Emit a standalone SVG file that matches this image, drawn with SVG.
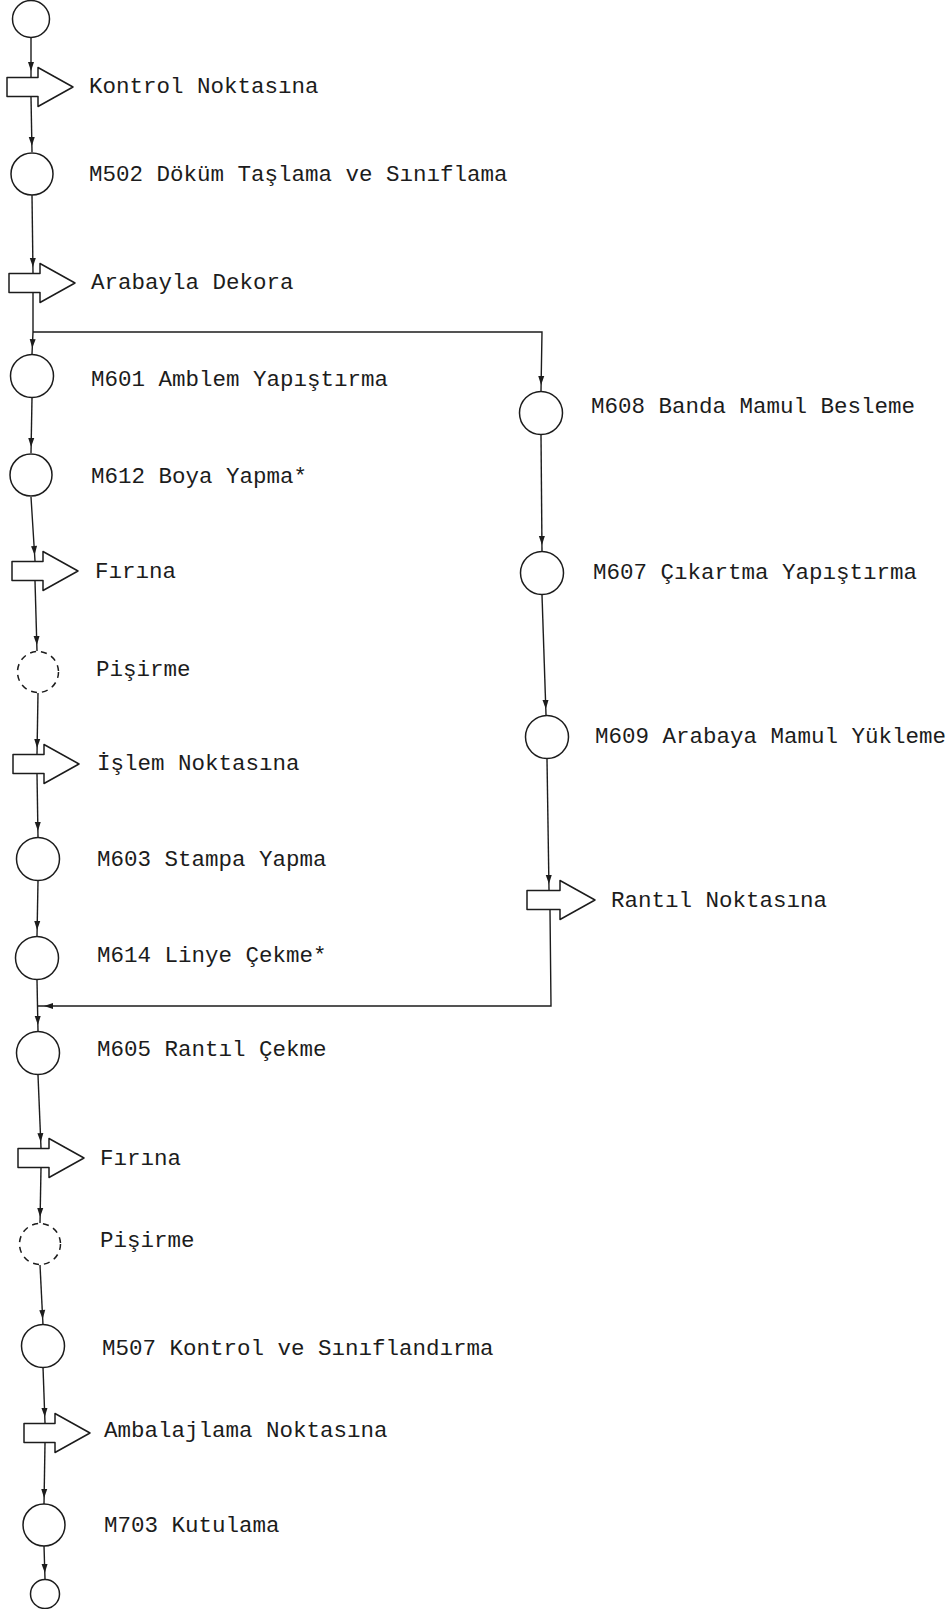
<svg xmlns="http://www.w3.org/2000/svg" width="950" height="1609" viewBox="0 0 950 1609">
  <style>
    .ln { fill: none; stroke: #1c1c1c; stroke-width: 1.4; }
    .nd { fill: none; stroke: #1c1c1c; stroke-width: 1.5; stroke-linejoin: round; }
    .dash { stroke-dasharray: 6 5; }
    .tx { font-family: "Liberation Mono", "DejaVu Sans Mono", monospace; font-size: 22.5px; fill: #1c1c1c; }
  </style>
  <defs>
    <!-- small solid head, sitting a few px short of the line end -->
    <marker id="ah" markerUnits="userSpaceOnUse" markerWidth="10" markerHeight="6" refX="15" refY="3" orient="auto" overflow="visible">
      <path d="M0,0 L9,3 L0,6 Z" fill="#1c1c1c"/>
    </marker>
  </defs>
  <rect width="950" height="1609" fill="#ffffff"/>

  <!-- connectors -->
  <g id="connectors" class="ln">
    <path d="M31,37 L31,77" marker-end="url(#ah)"/>
    <path d="M31,97 L32,152" marker-end="url(#ah)"/>
    <path d="M32,195 L33,273" marker-end="url(#ah)"/>
    <path d="M33,293 L33,332 L32,354" marker-end="url(#ah)"/>
    <path d="M33,332 L542,332 L541,391" marker-end="url(#ah)"/>
    <path d="M32,398 L31,453" marker-end="url(#ah)"/>
    <path d="M31,497 L35,561" marker-end="url(#ah)"/>
    <path d="M35,581 L37,651" marker-end="url(#ah)"/>
    <path d="M38,693 L37,754" marker-end="url(#ah)"/>
    <path d="M37,774 L38,837" marker-end="url(#ah)"/>
    <path d="M38,881 L37,936" marker-end="url(#ah)"/>
    <path d="M37,980 L38,1031" marker-end="url(#ah)"/>
    <path d="M541,435 L542,551" marker-end="url(#ah)"/>
    <path d="M542,595 L546,715" marker-end="url(#ah)"/>
    <path d="M547,759 L549,890" marker-end="url(#ah)"/>
    <path d="M550,910 L551,1006 L38,1006" marker-end="url(#ah)"/>
    <path d="M38,1075 L41,1148" marker-end="url(#ah)"/>
    <path d="M41,1168 L40,1223" marker-end="url(#ah)"/>
    <path d="M40,1265 L43,1325" marker-end="url(#ah)"/>
    <path d="M43,1367 L45,1423" marker-end="url(#ah)"/>
    <path d="M45,1443 L44,1504" marker-end="url(#ah)"/>
    <path d="M44,1546 L45,1579" marker-end="url(#ah)"/>
  </g>

  <!-- left column -->
  <g id="start"><circle class="nd" cx="31" cy="19" r="18.5"/></g>

  <g id="kontrol-noktasina">
    <path class="nd" d="M7,77.5 L38,77.5 L38,67.5 L73,87 L38,106.5 L38,96.5 L7,96.5 Z"/>
    <text class="tx" x="89" y="93">Kontrol Noktasına</text>
  </g>

  <g id="m502">
    <circle class="nd" cx="32" cy="174" r="21"/>
    <text class="tx" x="89" y="181">M502 Döküm Taşlama ve Sınıflama</text>
  </g>

  <g id="arabayla-dekora">
    <path class="nd" d="M9,273.5 L40,273.5 L40,263.5 L75,283 L40,302.5 L40,292.5 L9,292.5 Z"/>
    <text class="tx" x="91" y="289">Arabayla Dekora</text>
  </g>

  <g id="m601">
    <circle class="nd" cx="32" cy="376" r="21.5"/>
    <text class="tx" x="91" y="386">M601 Amblem Yapıştırma</text>
  </g>

  <g id="m612">
    <circle class="nd" cx="31" cy="475" r="21"/>
    <text class="tx" x="91" y="483">M612 Boya Yapma*</text>
  </g>

  <g id="firina-1">
    <path class="nd" d="M12,561.5 L43,561.5 L43,551.5 L78,571 L43,590.5 L43,580.5 L12,580.5 Z"/>
    <text class="tx" x="95" y="578">Fırına</text>
  </g>

  <g id="pisirme-1">
    <circle class="nd dash" cx="38" cy="672" r="20.5"/>
    <text class="tx" x="96" y="676">Pişirme</text>
  </g>

  <g id="islem-noktasina">
    <path class="nd" d="M13,754.5 L44,754.5 L44,744.5 L79,764 L44,783.5 L44,773.5 L13,773.5 Z"/>
    <text class="tx" x="97" y="770">İşlem Noktasına</text>
  </g>

  <g id="m603">
    <circle class="nd" cx="38" cy="859" r="21.5"/>
    <text class="tx" x="97" y="866">M603 Stampa Yapma</text>
  </g>

  <g id="m614">
    <circle class="nd" cx="37" cy="958" r="21.5"/>
    <text class="tx" x="97" y="962">M614 Linye Çekme*</text>
  </g>

  <g id="m605">
    <circle class="nd" cx="38" cy="1053" r="21.5"/>
    <text class="tx" x="97" y="1056">M605 Rantıl Çekme</text>
  </g>

  <g id="firina-2">
    <path class="nd" d="M18,1148.5 L49,1148.5 L49,1138.5 L84,1158 L49,1177.5 L49,1167.5 L18,1167.5 Z"/>
    <text class="tx" x="100" y="1165">Fırına</text>
  </g>

  <g id="pisirme-2">
    <circle class="nd dash" cx="40" cy="1244" r="20.5"/>
    <text class="tx" x="100" y="1247">Pişirme</text>
  </g>

  <g id="m507">
    <circle class="nd" cx="43" cy="1346" r="21.5"/>
    <text class="tx" x="102" y="1355">M507 Kontrol ve Sınıflandırma</text>
  </g>

  <g id="ambalajlama-noktasina">
    <path class="nd" d="M24,1423.5 L55,1423.5 L55,1413.5 L90,1433 L55,1452.5 L55,1442.5 L24,1442.5 Z"/>
    <text class="tx" x="104" y="1437">Ambalajlama Noktasına</text>
  </g>

  <g id="m703">
    <circle class="nd" cx="44" cy="1525" r="21"/>
    <text class="tx" x="104" y="1532">M703 Kutulama</text>
  </g>

  <g id="end"><circle class="nd" cx="45" cy="1594" r="14.5"/></g>

  <!-- right branch -->
  <g id="m608">
    <circle class="nd" cx="541" cy="413" r="21.5"/>
    <text class="tx" x="591" y="413">M608 Banda Mamul Besleme</text>
  </g>

  <g id="m607">
    <circle class="nd" cx="542" cy="573" r="21.5"/>
    <text class="tx" x="593" y="579">M607 Çıkartma Yapıştırma</text>
  </g>

  <g id="m609">
    <circle class="nd" cx="547" cy="737" r="21.5"/>
    <text class="tx" x="595" y="743">M609 Arabaya Mamul Yükleme</text>
  </g>

  <g id="rantil-noktasina">
    <path class="nd" d="M527,890.5 L560,890.5 L560,880.5 L595,900 L560,919.5 L560,909.5 L527,909.5 Z"/>
    <text class="tx" x="611" y="907">Rantıl Noktasına</text>
  </g>
</svg>
